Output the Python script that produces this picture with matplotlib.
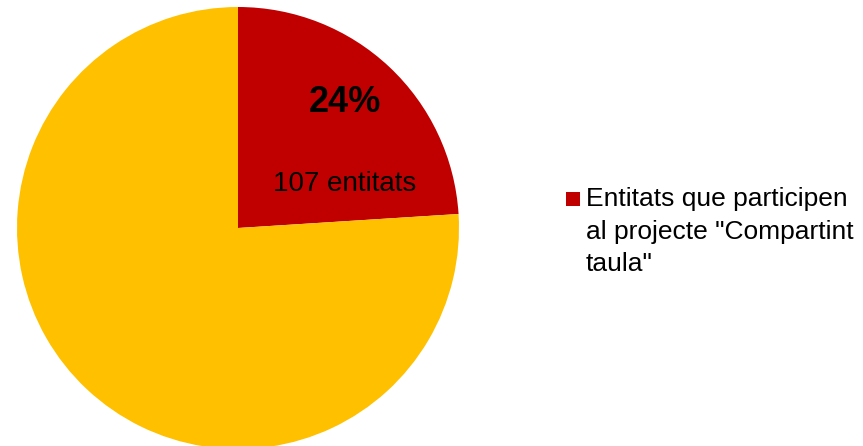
import matplotlib.pyplot as plt
from matplotlib.patches import Rectangle

plt.rcParams['font.family'] = ['Liberation Sans', 'DejaVu Sans']

# data
labels = ['Entitats que participen\nal projecte "Compartint\ntaula"', 'Altres entitats']
values = [107, 339]
colors = ['#C00000', '#FFC000']

W, H = 863, 446
fig = plt.figure(figsize=(W / 100, H / 100), dpi=100)
# pie centre at (238, 228) px, radius 221 px
ax = fig.add_axes([(238 - 221) / W, (H - 228 - 221) / H, 442 / W, 442 / H])
wedges, _ = ax.pie(values, colors=colors, startangle=90, counterclock=False,
                   radius=1, wedgeprops=dict(linewidth=0))
ax.set_xlim(-1, 1)
ax.set_ylim(-1, 1)
ax.set_aspect('equal')
ax.axis('off')

pct = values[0] / sum(values) * 100
ax.text(0.484, 0.57, f'{pct:.0f}%', ha='center', va='center',
        fontsize=26, fontweight='bold', color='black')
ax.text(0.484, 0.20, f'{values[0]} entitats', ha='center', va='center',
        fontsize=20, color='black')

# legend (only the red series is shown)
fig.patches.append(Rectangle((566 / W, 1 - 206 / H), 14 / W, 14 / H,
                             transform=fig.transFigure, facecolor=colors[0],
                             edgecolor='none'))
fig.text(586 / W, 1 - 187 / H, labels[0], ha='left', va='top',
         fontsize=19, color='black', linespacing=1.45)

fig.savefig('out.png', dpi=100)
